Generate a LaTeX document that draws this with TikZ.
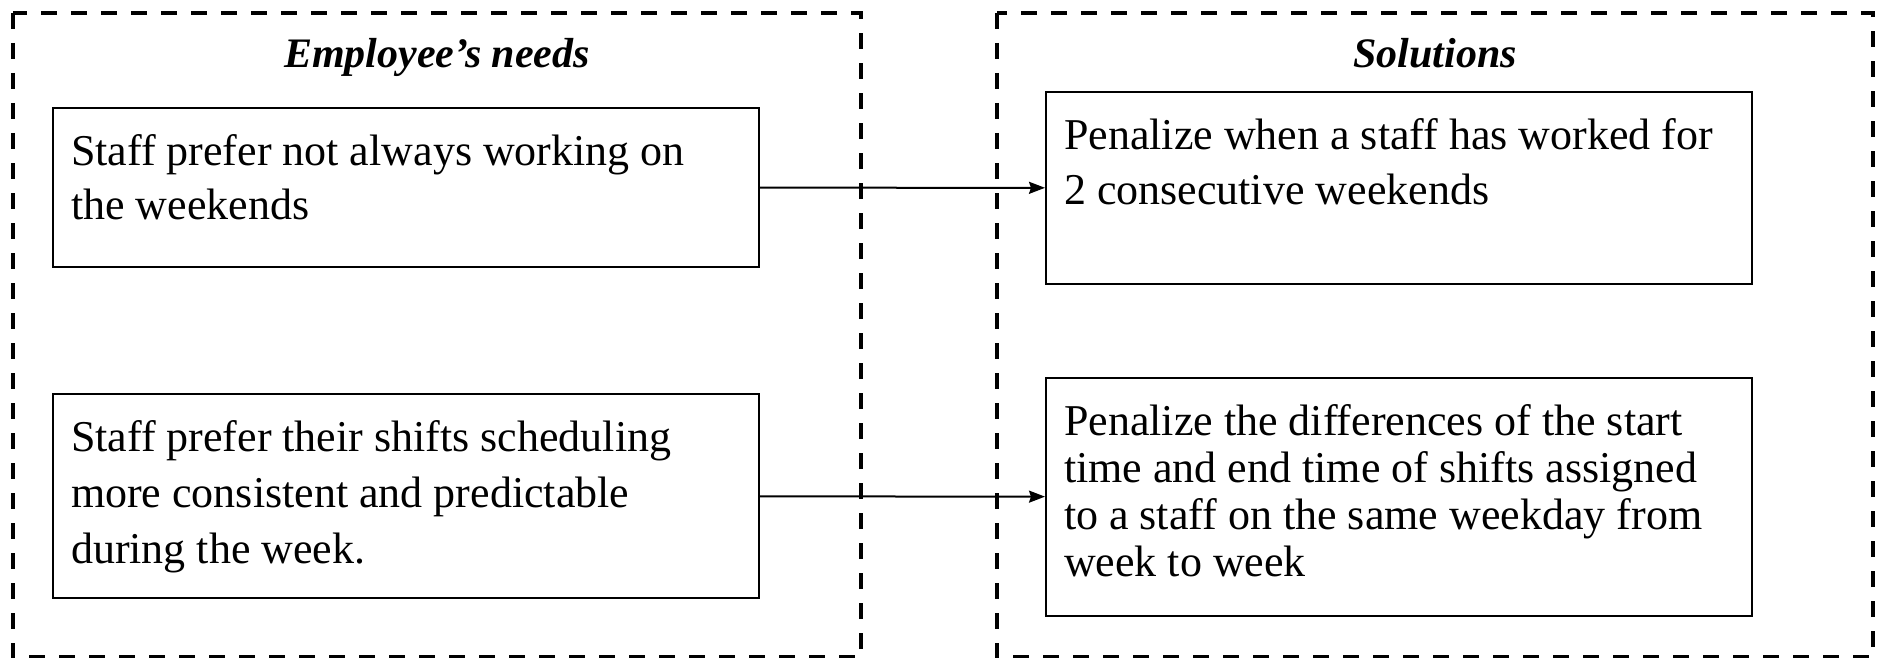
\documentclass[tikz,border=0pt]{standalone}
\usepackage{fontspec}
\setmainfont{Liberation Serif}
\usetikzlibrary{graphs,arrows.meta}

\newcommand{\boxlines}[3]{%
  \parbox[c][#1][t]{335pt}{\fontsize{22pt}{#2}\selectfont\rule{0pt}{28.5pt}#3}}

\begin{document}
\begin{tikzpicture}[
x=0.5pt, y=-0.5pt,
>={Stealth[length=8pt,width=6pt,inset=1pt]},
line width=1pt,
frame/.style={%
    draw=black,
    line width=2pt,
    dash pattern=on 8pt off 7pt,
},
title/.style={%
    anchor=base,
    font=\fontsize{21pt}{25pt}\selectfont\bfseries\itshape,
},
box/.style={%
    rectangle,
    draw=black,
    anchor=north west,
    inner xsep=9pt,
    inner ysep=0pt,
},
]
\useasboundingbox (0,0) rectangle (1879,658);

% Frames
\draw[frame] (13,13) rectangle (861,657);
\draw[frame] (997,13) rectangle (1873,657);

% Nodes
\node[title] at (437,68)   (needstitle)    {Employee’s needs};
\node[title] at (1435,68)  (solutionstitle){Solutions};

\node[box]   at (52,107)   (weekends)      {\boxlines{79.5pt}{27pt}{Staff prefer not always working on\\the weekends}};
\node[box]   at (1045,91)  (weekendsfix)   {\boxlines{96pt}{27.5pt}{Penalize when a staff has worked for\\2 consecutive weekends}};

\node[box]   at (52,393)   (consistent)    {\boxlines{102pt}{28pt}{Staff prefer their shifts scheduling\\more consistent and predictable\\during the week.}};
\node[box]   at (1045,377) (consistentfix) {\boxlines{119pt}{23.5pt}{Penalize the differences of the start\\time and end time of shifts assigned\\to a staff on the same weekday from\\week to week}};

% Lines
\graph [use existing nodes] {
    weekends -> weekendsfix;
    consistent -> consistentfix;
};
\end{tikzpicture}
\end{document}
